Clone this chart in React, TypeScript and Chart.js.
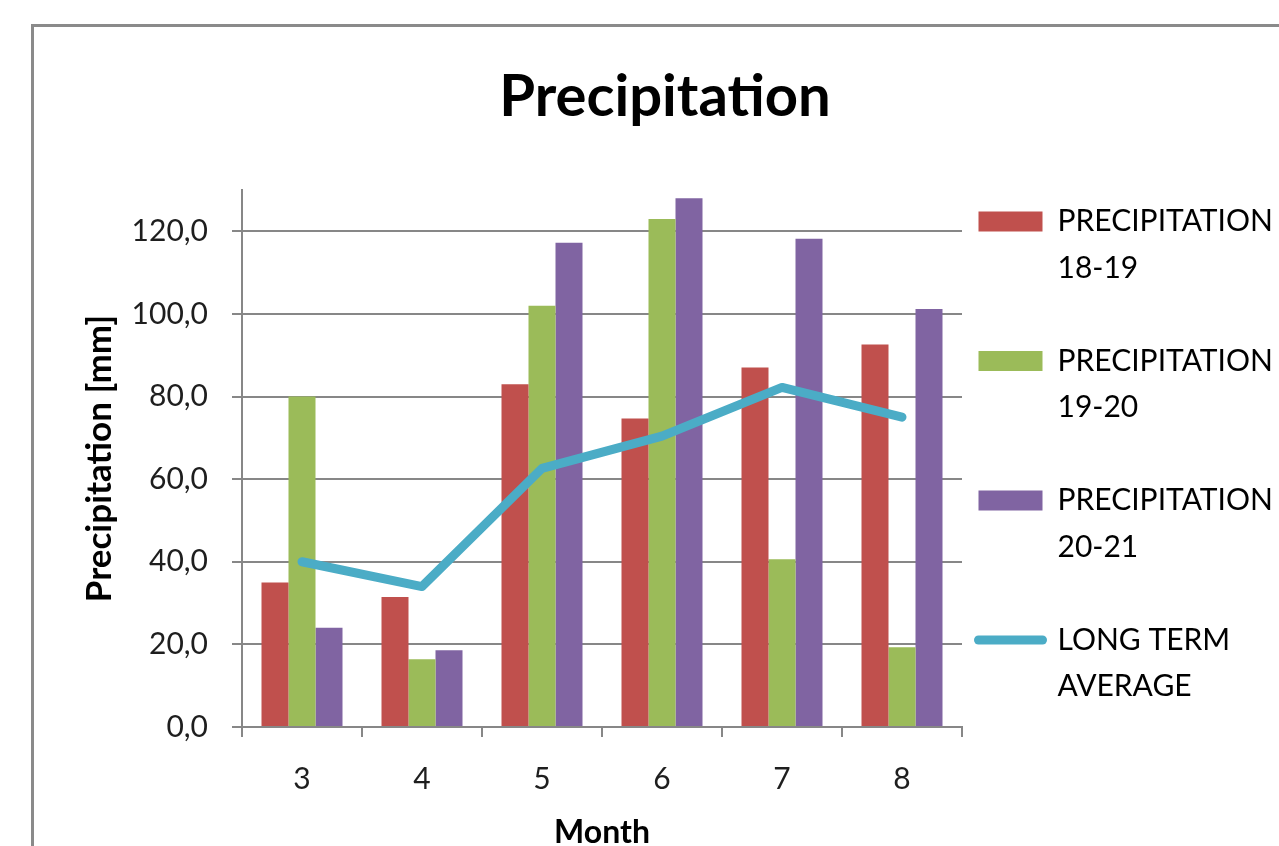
import React, { useEffect, useRef } from 'react';
import { Chart, registerables } from 'chart.js';

Chart.register(...registerables);

// ---- data ----
const MONTHS = ['3', '4', '5', '6', '7', '8'];
const PRECIP_18_19 = [35, 31.5, 83, 74.7, 87, 92.6];
const PRECIP_19_20 = [80, 16.4, 102, 123, 40.6, 19.3];
const PRECIP_20_21 = [24, 18.6, 117.2, 128, 118.2, 101.2];
const LONG_TERM_AVG = [40, 34, 62.6, 70.4, 82.2, 75];
const SERIES_LABELS = [
  'PRECIPITATION 18-19',
  'PRECIPITATION 19-20',
  'PRECIPITATION 20-21',
  'LONG TERM AVERAGE',
];
const Y_MIN = 0;
const Y_MAX = 130;
const Y_STEP = 20;
const CHART_TITLE = 'Precipitation';
const Y_TITLE = 'Precipitation [mm]';
const X_TITLE = 'Month';

// ---- styles / layout ----
const RED = '#C0504D';
const GREEN = '#9BBB59';
const PURPLE = '#8064A2';
const CYAN = '#4BACC6';
const GRID = '#878787';
const TEXT = '#1e1e1e';
const FONT = 'Lato';
const CANVAS_LEFT = -40; // page x of canvas
const CANVAS_W = 1340;
const CANVAS_H = 860;
const PLOT_LEFT = 242; // page x
const PLOT_RIGHT = 962; // page x
const LEGEND_FONT = 30;
const LEGEND_PAD = 16.5;
const LEGEND_BOX_W = 64;

function splitLabel(label: string): [string, string] {
  const k = label.lastIndexOf(' ');
  return [label.slice(0, k), label.slice(k + 1)];
}

const titlePlugin = {
  id: 'pageTitle',
  afterDraw(chart: any) {
    const ctx = chart.ctx;
    ctx.save();
    ctx.font = `bold 58px ${FONT}`;
    ctx.fillStyle = '#000';
    ctx.textAlign = 'center';
    ctx.textBaseline = 'middle';
    ctx.fillText(CHART_TITLE, 665 - CANVAS_LEFT, 97);
    ctx.restore();
  },
};

export default function App() {
  const ref = useRef<HTMLCanvasElement | null>(null);

  useEffect(() => {
    if (!ref.current) return;
    const transparent = 'rgba(0,0,0,0)';

    // width of the legend column, as Chart.js computes it
    const mctx = document.createElement('canvas').getContext('2d') as CanvasRenderingContext2D;
    mctx.font = `normal ${LEGEND_FONT}px ${FONT}`;
    let textW = 0;
    SERIES_LABELS.forEach((l) =>
      splitLabel(l).forEach((t) => {
        textW = Math.max(textW, mctx.measureText(t).width);
      })
    );
    const legendW = LEGEND_PAD + LEGEND_BOX_W + LEGEND_FONT / 2 + textW + 10;
    const padRight = CANVAS_LEFT + CANVAS_W - PLOT_RIGHT - legendW;

    const chart = new Chart(ref.current, {
      type: 'bar',
      plugins: [titlePlugin],
      data: {
        labels: MONTHS,
        datasets: [
          {
            label: SERIES_LABELS[0],
            data: PRECIP_18_19,
            backgroundColor: RED,
            borderWidth: 0,
            categoryPercentage: 0.675,
            barPercentage: 1,
          },
          {
            label: SERIES_LABELS[1],
            data: PRECIP_19_20,
            backgroundColor: GREEN,
            borderWidth: 0,
            categoryPercentage: 0.675,
            barPercentage: 1,
          },
          {
            label: SERIES_LABELS[2],
            data: PRECIP_20_21,
            backgroundColor: PURPLE,
            borderWidth: 0,
            categoryPercentage: 0.675,
            barPercentage: 1,
          },
          {
            type: 'line',
            label: SERIES_LABELS[3],
            data: LONG_TERM_AVG,
            borderColor: CYAN,
            backgroundColor: CYAN,
            borderWidth: 9,
            pointRadius: 0,
            pointHoverRadius: 0,
            borderCapStyle: 'round',
            borderJoinStyle: 'round',
            tension: 0,
            fill: false,
            order: -1,
          } as any,
        ],
      },
      options: {
        responsive: false,
        animation: false,
        layout: { padding: { top: 190, left: 0, right: padRight, bottom: 8 } },
        plugins: {
          tooltip: { enabled: false },
          title: { display: false },
          legend: {
            position: 'right',
            align: 'start',
            labels: {
              font: { family: FONT, size: LEGEND_FONT },
              color: TEXT,
              usePointStyle: true,
              pointStyleWidth: LEGEND_BOX_W,
              boxHeight: 20,
              padding: LEGEND_PAD,
              generateLabels: (c: any) => {
                const items: any[] = [];
                c.data.datasets.forEach((ds: any, i: number) => {
                  const [l1, l2] = splitLabel(ds.label);
                  const isLine = ds.type === 'line';
                  if (i > 0) {
                    items.push({
                      text: '',
                      fillStyle: transparent,
                      strokeStyle: transparent,
                      lineWidth: 0,
                      pointStyle: 'rect',
                      hidden: false,
                      datasetIndex: i,
                    });
                  }
                  items.push({
                    text: l1,
                    fillStyle: isLine ? transparent : ds.backgroundColor,
                    strokeStyle: isLine ? ds.borderColor : transparent,
                    lineWidth: isLine ? 9 : 0,
                    lineCap: 'round',
                    pointStyle: isLine ? 'line' : 'rect',
                    hidden: false,
                    datasetIndex: i,
                  });
                  items.push({
                    text: l2,
                    fillStyle: transparent,
                    strokeStyle: transparent,
                    lineWidth: 0,
                    pointStyle: 'rect',
                    hidden: false,
                    datasetIndex: i,
                  });
                });
                return items;
              },
            },
          },
        },
        scales: {
          x: {
            offset: true,
            grid: {
              display: true,
              drawOnChartArea: false,
              drawTicks: true,
              tickLength: 10,
              color: GRID,
              lineWidth: 2,
              offset: true,
            },
            border: { display: true, color: GRID, width: 2 },
            ticks: {
              color: TEXT,
              font: { family: FONT, size: 30 },
              padding: 24,
              maxRotation: 0,
            },
            title: {
              display: true,
              text: X_TITLE,
              color: '#000',
              font: { family: FONT, size: 32, weight: 'bold' },
              padding: { top: -8, bottom: 0.6 },
            },
          },
          y: {
            min: Y_MIN,
            max: Y_MAX,
            afterFit: (scale: any) => {
              scale.width = PLOT_LEFT - CANVAS_LEFT;
            },
            grid: {
              color: GRID,
              lineWidth: 2,
              drawTicks: true,
              tickLength: 10,
            },
            border: { display: true, color: GRID, width: 2 },
            ticks: {
              stepSize: Y_STEP,
              includeBounds: false,
              color: TEXT,
              font: { family: FONT, size: 30 },
              padding: 24,
              callback: (v: any) => Number(v).toFixed(1).replace('.', ','),
            },
            title: {
              display: true,
              text: Y_TITLE,
              color: '#000',
              font: { family: FONT, size: 35, weight: 'bold' },
              padding: { top: 100 - CANVAS_LEFT - 21, bottom: 0 },
            },
          },
        },
      } as any,
    });
    return () => chart.destroy();
  }, []);

  return (
    <div
      style={{
        position: 'fixed',
        left: 0,
        top: 0,
        width: '100vw',
        height: '100vh',
        overflow: 'hidden',
        background: '#fff',
      }}
    >
      <div
        style={{
          position: 'absolute',
          left: 31,
          top: 24,
          width: 3000,
          height: 3000,
          borderLeft: '3px solid #8a8a8a',
          borderTop: '3px solid #8a8a8a',
        }}
      />
      <canvas
        ref={ref}
        width={CANVAS_W}
        height={CANVAS_H}
        style={{
          position: 'absolute',
          left: CANVAS_LEFT,
          top: 0,
          width: CANVAS_W,
          height: CANVAS_H,
        }}
      />
    </div>
  );
}
